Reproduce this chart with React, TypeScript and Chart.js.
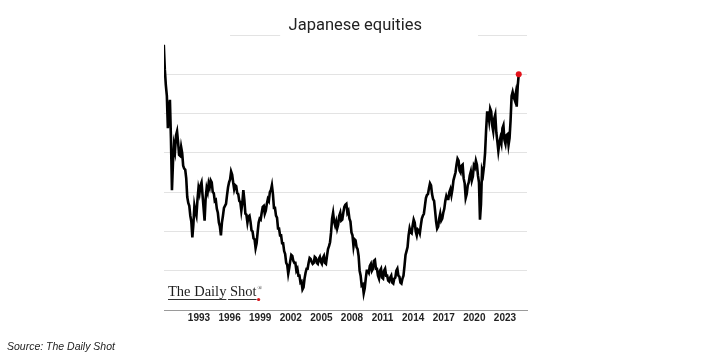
import React, { useEffect, useRef } from "react";
import { Chart, registerables } from "chart.js";

Chart.register(...registerables);

const titleText = "Japanese equities";
const sourceText = "Source: The Daily Shot";
const logoText = "The Daily Shot";

const startYear = 1989.55;
const stepYears = 0.1;
const tickYears = [1993, 1996, 1999, 2002, 2005, 2008, 2011, 2014, 2017, 2020, 2023];

const equityIndex = [
  2700, 2450, 2290, 2180, 1850, 2050, 2140, 1750, 1220, 1500,
  1680, 1620, 1780, 1820, 1710, 1580, 1570, 1660, 1600, 1470,
  1440, 1430, 1340, 1150, 1090, 1060, 960, 900, 740, 870,
  1060, 1000, 960, 1120, 1240, 1190, 1270, 1300, 1170, 1040,
  910, 1130, 1240, 1200, 1290, 1250, 1320, 1300, 1200, 1190,
  1110, 1120, 1030, 990, 890, 850, 760, 890, 960, 1040,
  1060, 1080, 1170, 1250, 1300, 1330, 1410, 1380, 1300, 1230,
  1270, 1260, 1190, 1180, 1110, 1100, 1010, 1090, 1220, 1120,
  980, 970, 890, 950, 960, 900, 810, 800, 730, 720,
  630, 680, 790, 890, 930, 920, 990, 1050, 1060, 980,
  1010, 1080, 1130, 1110, 1200, 1220, 1270, 1180, 1040, 1040,
  960, 940, 830, 830, 760, 760, 680, 680, 600, 570,
  480, 460, 370, 430, 500, 560, 550, 500, 480, 480,
  400, 420, 350, 350, 280, 290, 210, 230, 320, 380,
  420, 420, 480, 530, 520, 490, 470, 480, 540, 530,
  480, 470, 520, 540, 490, 470, 530, 550, 480, 470,
  550, 620, 650, 690, 790, 930, 990, 900, 860, 900,
  830, 870, 960, 990, 910, 920, 990, 1050, 1070, 1080,
  990, 1010, 930, 900, 790, 760, 650, 720, 710, 640,
  620, 550, 400, 350, 250, 260, 170, 220, 320, 400,
  400, 380, 450, 470, 400, 420, 500, 510, 420, 420,
  350, 320, 400, 420, 330, 320, 400, 420, 350, 350,
  300, 290, 330, 350, 280, 270, 320, 330, 400, 420,
  350, 340, 280, 270, 320, 350, 450, 560, 600, 640,
  760, 830, 790, 780, 860, 920, 890, 800, 760, 820,
  810, 780, 860, 930, 960, 980, 1060, 1140, 1170, 1180,
  1240, 1290, 1270, 1180, 1130, 1110, 1010, 900, 830, 850,
  930, 980, 910, 930, 990, 1030, 1110, 1160, 1130, 1130,
  1200, 1230, 1170, 1230, 1320, 1360, 1400, 1480, 1540, 1520,
  1420, 1400, 1470, 1480, 1340, 1290, 1140, 1180, 1270, 1300,
  1370, 1410, 1320, 1360, 1470, 1450, 1520, 1480, 1370, 1300,
  920, 1080, 1420, 1380, 1470, 1600, 1830, 2010, 2010, 1930,
  2050, 2020, 1880, 1820, 1950, 1990, 1810, 1720, 1620, 1700,
  1750, 1700, 1850, 1880, 1730, 1690, 1780, 1790, 1680, 1750,
  1930, 2180, 2220, 2170, 2140, 2200, 2070, 2280, 2400,
];

const yMin = 0;
const yMax = 2800;
const yStep = 400;

const decorPlugin = {
  id: "decor",
  afterDraw(chart: any) {
    const { ctx, chartArea } = chart;
    const yScale = chart.scales.y;
    const w = chartArea.right - chartArea.left;
    ctx.save();
    // partial top gridline
    const yTop = Math.round(yScale.getPixelForValue(yMax)) + 0.5;
    ctx.strokeStyle = "#e3e3e3";
    ctx.lineWidth = 1;
    ctx.beginPath();
    ctx.moveTo(chartArea.left + w * 0.182, yTop);
    ctx.lineTo(chartArea.left + w * 0.32, yTop);
    ctx.moveTo(chartArea.left + w * 0.865, yTop);
    ctx.lineTo(chartArea.right, yTop);
    ctx.stroke();

    // title
    ctx.fillStyle = "#222";
    ctx.font = "16.5px Roboto, 'Liberation Sans', sans-serif";
    ctx.textAlign = "center";
    ctx.textBaseline = "alphabetic";
    ctx.fillText(titleText, chartArea.left + w * 0.527, chartArea.top - 5);

    // logo
    const lx = chartArea.left + 4;
    const ly = chartArea.bottom - 14;
    ctx.font = "14.5px 'Liberation Serif', 'DejaVu Serif', serif";
    ctx.textAlign = "left";
    ctx.fillStyle = "#1e1e1e";
    ctx.fillText(logoText, lx, ly);
    const fullW = ctx.measureText(logoText).width;
    const partW = ctx.measureText("The Daily").width;
    const shotStart = ctx.measureText("The Daily ").width;
    ctx.strokeStyle = "#333";
    ctx.lineWidth = 1;
    ctx.beginPath();
    ctx.moveTo(lx, ly + 3.5);
    ctx.lineTo(lx + partW, ly + 3.5);
    ctx.moveTo(lx + shotStart - 2, ly + 3.5);
    ctx.lineTo(lx + fullW, ly + 3.5);
    ctx.stroke();
    ctx.font = "6px 'Liberation Serif', serif";
    ctx.fillText("®", lx + fullW + 1, ly - 6);
    ctx.fillStyle = "#d7141a";
    ctx.beginPath();
    ctx.arc(lx + fullW + 2, ly + 3.5, 1.6, 0, Math.PI * 2);
    ctx.fill();

    // source
    ctx.fillStyle = "#222";
    ctx.font = "italic 10.5px 'Liberation Sans', sans-serif";
    ctx.textAlign = "left";
    ctx.fillText(sourceText, 7, chart.height - 9);
    ctx.restore();
  },
};

export default function App() {
  const ref = useRef<HTMLCanvasElement | null>(null);
  useEffect(() => {
    if (!ref.current) return;
    const data = equityIndex.map((v, i) => ({ x: startYear + i * stepYears, y: v }));
    const last = equityIndex.length - 1;
    const chart = new Chart(ref.current, {
      type: "line",
      data: {
        datasets: [
          {
            data,
            borderColor: "#000",
            borderWidth: 2.6,
            tension: 0,
            pointRadius: equityIndex.map((_, i) => (i === last ? 3 : 0)),
            pointBackgroundColor: "#e3121b",
            pointBorderWidth: 0,
            pointHoverRadius: 0,
          },
        ],
      },
      options: {
        animation: false,
        responsive: false,
        devicePixelRatio: 1,
        events: [],
        layout: { padding: { left: 164, right: 177, top: 35, bottom: 33 } },
        plugins: { legend: { display: false }, title: { display: false }, tooltip: { enabled: false } },
        scales: {
          x: {
            type: "linear",
            min: 1989.57,
            max: 2025.16,
            afterBuildTicks: (axis: any) => {
              axis.ticks = tickYears.map((v) => ({ value: v }));
            },
            grid: { display: false, drawTicks: false },
            border: { display: true, color: "#9a9a9a", width: 1 },
            ticks: {
              autoSkip: false,
              maxRotation: 0,
              padding: 2,
              color: "#222",
              font: { size: 10, weight: "bold", family: "'Liberation Sans', Arial, sans-serif" },
              callback: (v: any) => String(v),
            },
          },
          y: {
            min: yMin,
            max: yMax,
            ticks: { display: false, stepSize: yStep },
            grid: {
              drawTicks: false,
              color: (c: any) => (c.tick && (c.tick.value === yMax || c.tick.value === yMin) ? "rgba(0,0,0,0)" : "#e3e3e3"),
              lineWidth: 1,
            },
            border: { display: false },
          },
        },
      },
      plugins: [decorPlugin],
    });
    return () => chart.destroy();
  }, []);
  return (
    <div style={{ position: "fixed", left: 0, top: 0, width: 704, height: 359, background: "#fff" }}>
      <canvas ref={ref} width={704} height={359} style={{ width: 704, height: 359, display: "block" }} />
    </div>
  );
}
